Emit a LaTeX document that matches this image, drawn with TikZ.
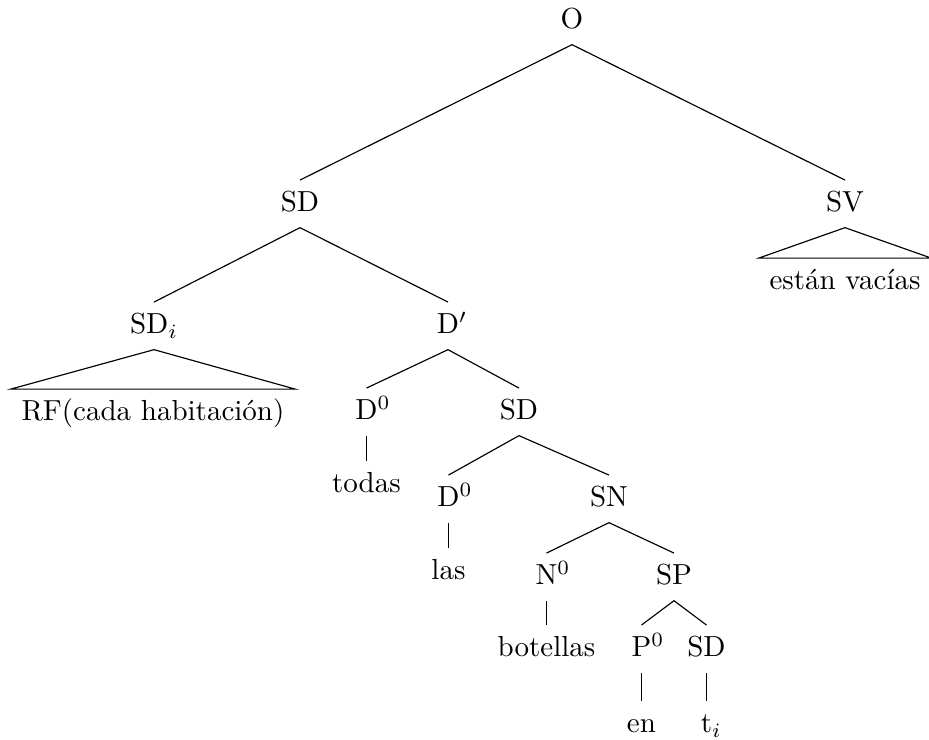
\documentclass[tikz,border=0pt]{standalone}
\usepackage{fontspec}
\usepackage{amsmath}
\usepackage{tikz}

\begin{document}
\begin{tikzpicture}[x=0.3447pt,y=-0.3447pt,
    lbl/.style={anchor=base,inner xsep=3.5pt,inner ysep=3.9pt,text height=6.9pt,text depth=1.3pt}]
      \useasboundingbox (0,0) rectangle (929,740);
      \node[lbl] (o) at (572,29) {O};
      \node[lbl] (sd) at (300,212) {SD};
      \node[lbl] (sv) at (845,212) {SV};
      \node[lbl] (vacias) at (845,290) {están vacías};
      \node[lbl] (sdi) at (154,334) {SD$_i$};
      \node[lbl] (dbar) at (448,334) {D\rlap{$'$}};
      \node[lbl] (rf) at (153,421) {RF(cada habitación)};
      \node[lbl] (d0a) at (366.5,420) {D\rlap{$^0$}};
      \node[lbl] (sdb) at (519,420) {SD};
      \node[lbl] (todas) at (366.5,493) {todas};
      \node[lbl] (d0b) at (448.5,507) {D\rlap{$^0$}};
      \node[lbl] (sn) at (609,507) {SN};
      \node[lbl] (las) at (448.5,580) {las};
      \node[lbl] (n0) at (546.5,585) {N\rlap{$^0$}};
      \node[lbl] (sp) at (674,585) {SP};
      \node[lbl] (botellas) at (546.5,657) {botellas};
      \node[lbl] (p0) at (641.5,657) {P\rlap{$^0$}};
      \node[lbl] (sdc) at (706.5,657) {SD};
      \node[lbl] (en) at (641.5,733) {en};
      \node[lbl] (ti) at (706.5,733) {t\rlap{$_i$}};
      % branches
      \draw (o.south) -- (sd.north);
      \draw (o.south) -- (sv.north);
      \draw (sd.south) -- (sdi.north);
      \draw (sd.south) -- (dbar.north);
      \draw (dbar.south) -- (d0a.north);
      \draw (dbar.south) -- (sdb.north);
      \draw (sdb.south) -- (d0b.north);
      \draw (sdb.south) -- (sn.north);
      \draw (sn.south) -- (n0.north);
      \draw (sn.south) -- (sp.north);
      \draw (sp.south) -- (p0.north);
      \draw (sp.south) -- (sdc.north);
      % terminals
      \draw (d0a.south) -- (todas.north);
      \draw (d0b.south) -- (las.north);
      \draw (n0.south) -- (botellas.north);
      \draw (p0.south) -- (en.north);
      \draw (sdc.south) -- (ti.north);
      % triangles
      \draw (sv.south) -- (vacias.north west) -- (vacias.north east) -- cycle;
      \draw (sdi.south) -- (rf.north west) -- (rf.north east) -- cycle;
    \end{tikzpicture}
\end{document}
